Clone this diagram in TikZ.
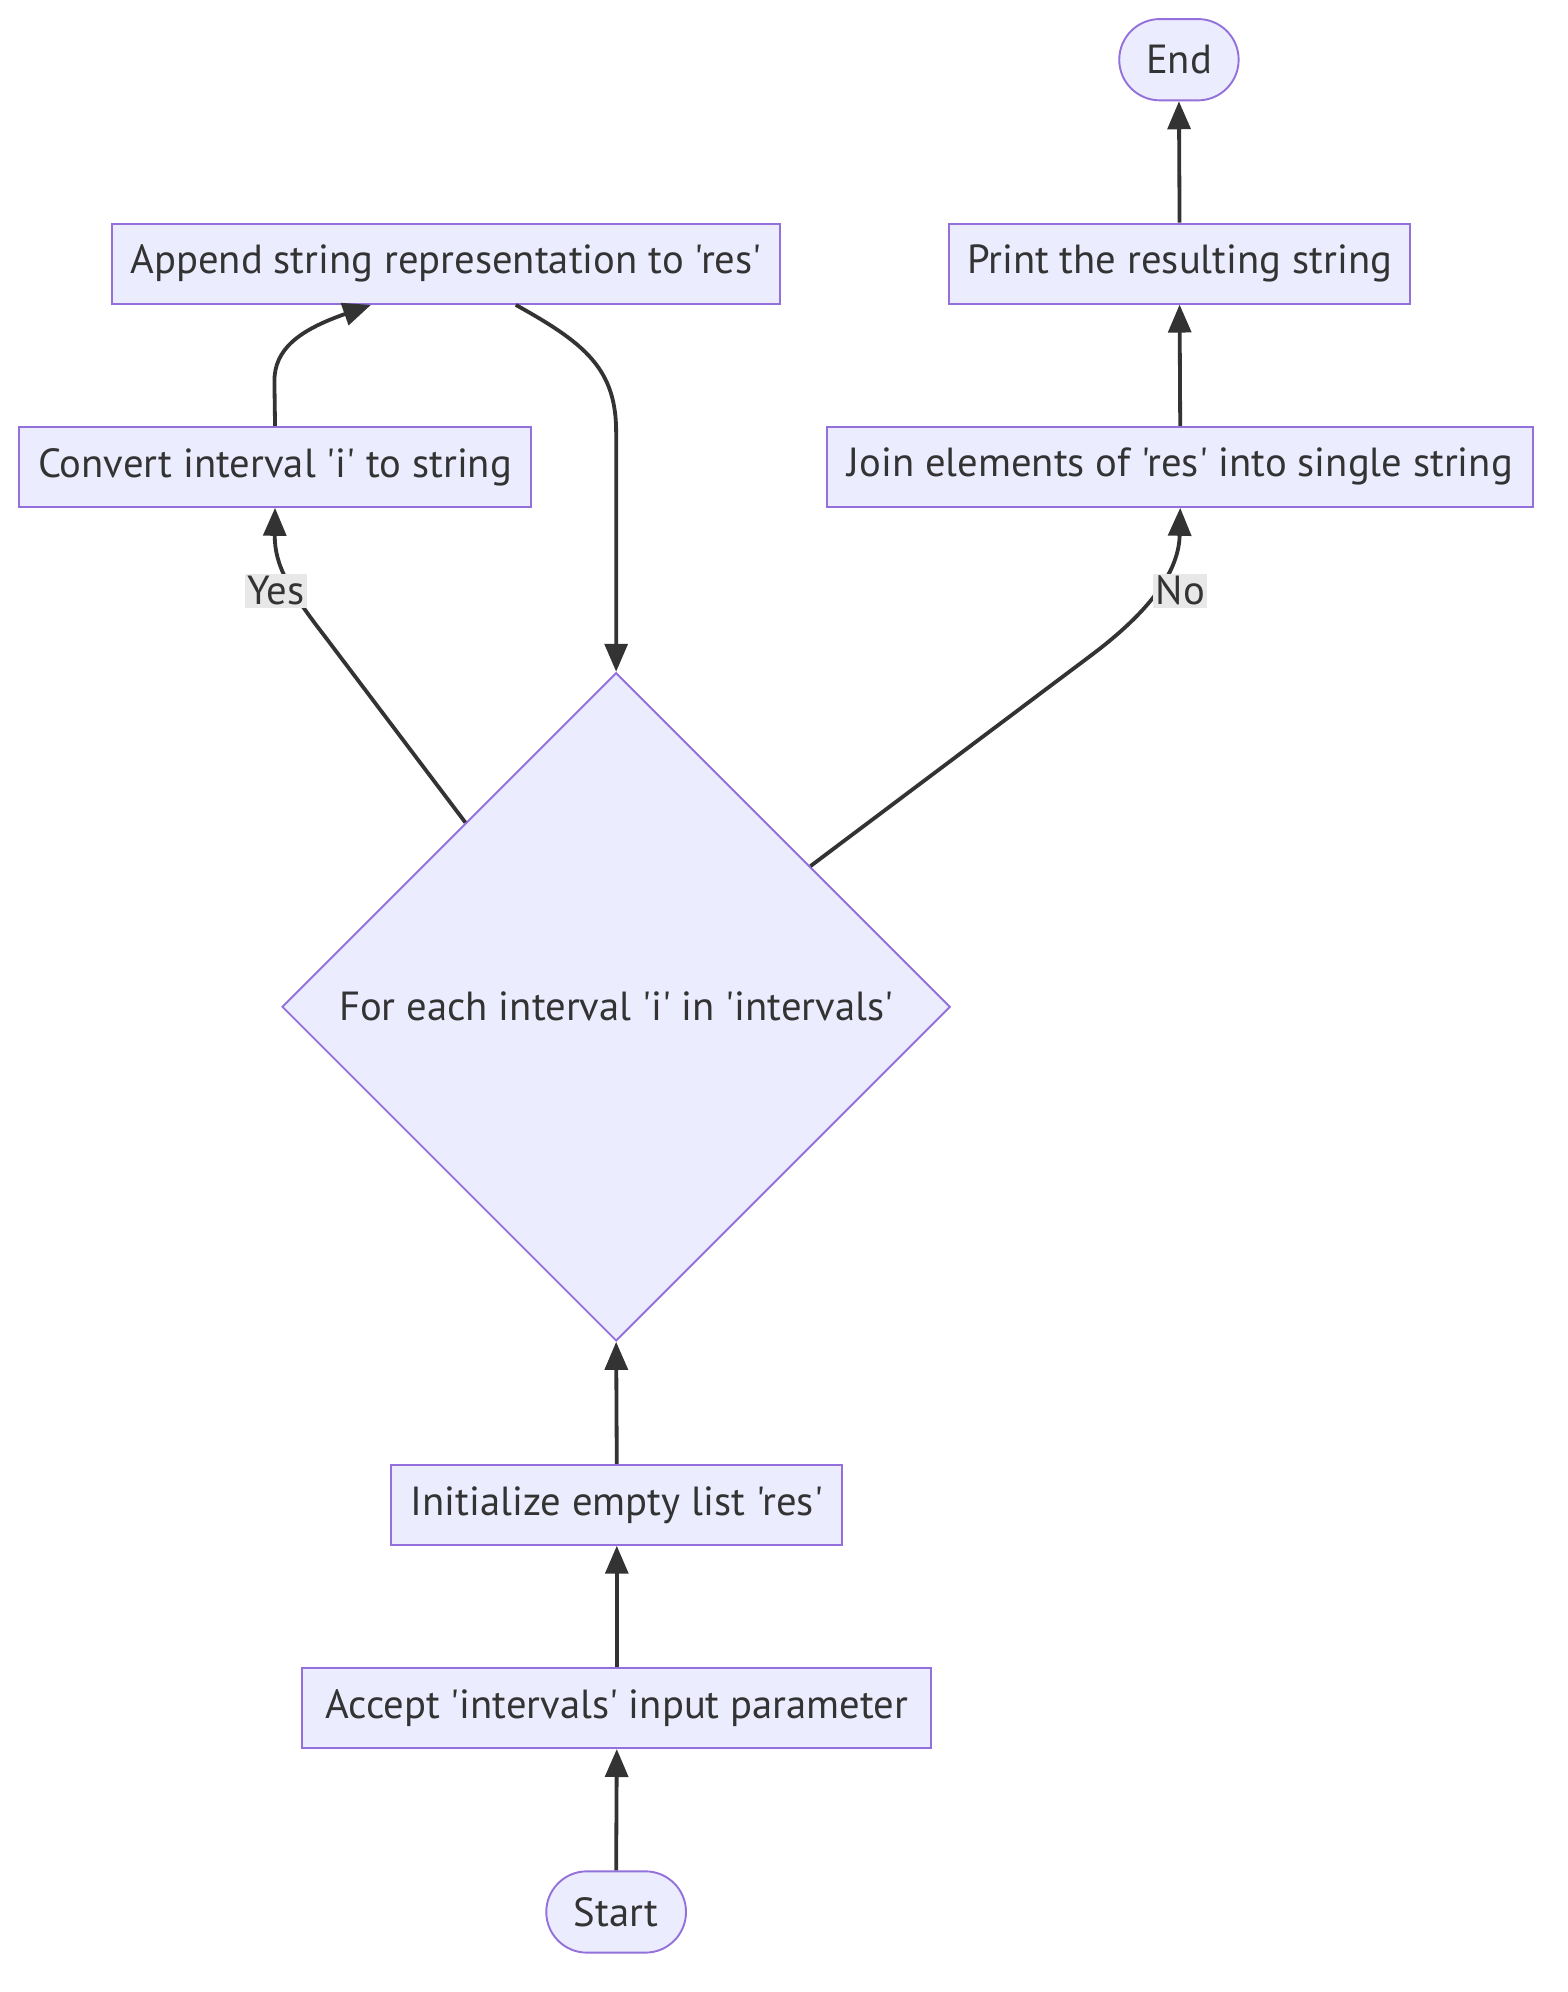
\documentclass[tikz,border=0pt]{standalone}
\usepackage{fontspec}
\setmainfont{PT Sans}[Ligatures=TeXOff]
\usetikzlibrary{shapes.geometric,shapes.misc,arrows.meta,calc}
\definecolor{mfill}{HTML}{ECECFF}
\definecolor{mborder}{HTML}{9370DB}
\definecolor{mline}{HTML}{333333}
\definecolor{mlabel}{HTML}{E8E8E8}
\tikzset{
  txt/.style={text=mline, font=\fontsize{32}{38}\selectfont},
  box/.style={txt, draw=mborder, fill=mfill, line width=1.5pt, minimum height=63pt, inner sep=0pt},
  term/.style={txt, rounded rectangle, draw=mborder, fill=mfill, line width=1.5pt, minimum height=64pt, inner sep=0pt},
  dec/.style={txt, diamond, aspect=1, draw=mborder, fill=mfill, line width=1.5pt, minimum width=526pt, minimum height=526pt, inner sep=0pt},
  arr/.style={draw=mline, line width=3pt, -{Triangle[length=22pt,width=18pt]}},
  elabel/.style={txt, fill=mlabel, inner sep=2pt}
}
\begin{document}
\begin{tikzpicture}[x=1pt,y=-1pt]
\useasboundingbox (0,0) rectangle (1234,1568);
\node[term, minimum width=94pt] (end) at (928,47) {End};
\node[box, minimum width=526pt] (app) at (351,207.5) {Append string representation to 'res'};
\node[box, minimum width=363pt] (print) at (928.5,207.5) {Print the resulting string};
\node[box, minimum width=403pt] (conv) at (216.5,367.5) {Convert interval 'i' to string};
\node[box, minimum width=556pt] (join) at (929,367.5) {Join elements of 'res' into single string};
\node[dec] (loop) at (485,792.5) {For each interval 'i' in 'intervals'};
\node[box, minimum width=355pt] (init) at (485.5,1184.5) {Initialize empty list 'res'};
\node[box, minimum width=495pt] (acc) at (485.5,1344.5) {Accept 'intervals' input parameter};
\node[term, minimum width=110pt] (start) at (485,1505) {Start};

\draw[arr] (start.north) -- (acc.south);
\draw[arr] (acc.north) -- (init.south);
\draw[arr] (init.north) -- (loop.south);
\draw[arr] ($(loop.north)!0.45!(loop.west)$) -- (255,500) .. controls (228,465) and (216,445) .. (conv.south);
\draw[arr] (conv.north) -- (216,300) .. controls (216,275) and (235,260) .. (292,240);
\draw[arr] (406,240) .. controls (460,270) and (485,290) .. (485,340) -- (loop.north);
\draw[arr] ($(loop.north)!0.58!(loop.east)$) -- (860,515) .. controls (905,481) and (928,450) .. (join.south);
\draw[arr] (join.north) -- (print.south);
\draw[arr] (print.north) -- (end.south);

\node[elabel] (yes) at (217,465) {Yes};
\node[elabel] (no) at (929,465) {No};
\end{tikzpicture}
\end{document}
